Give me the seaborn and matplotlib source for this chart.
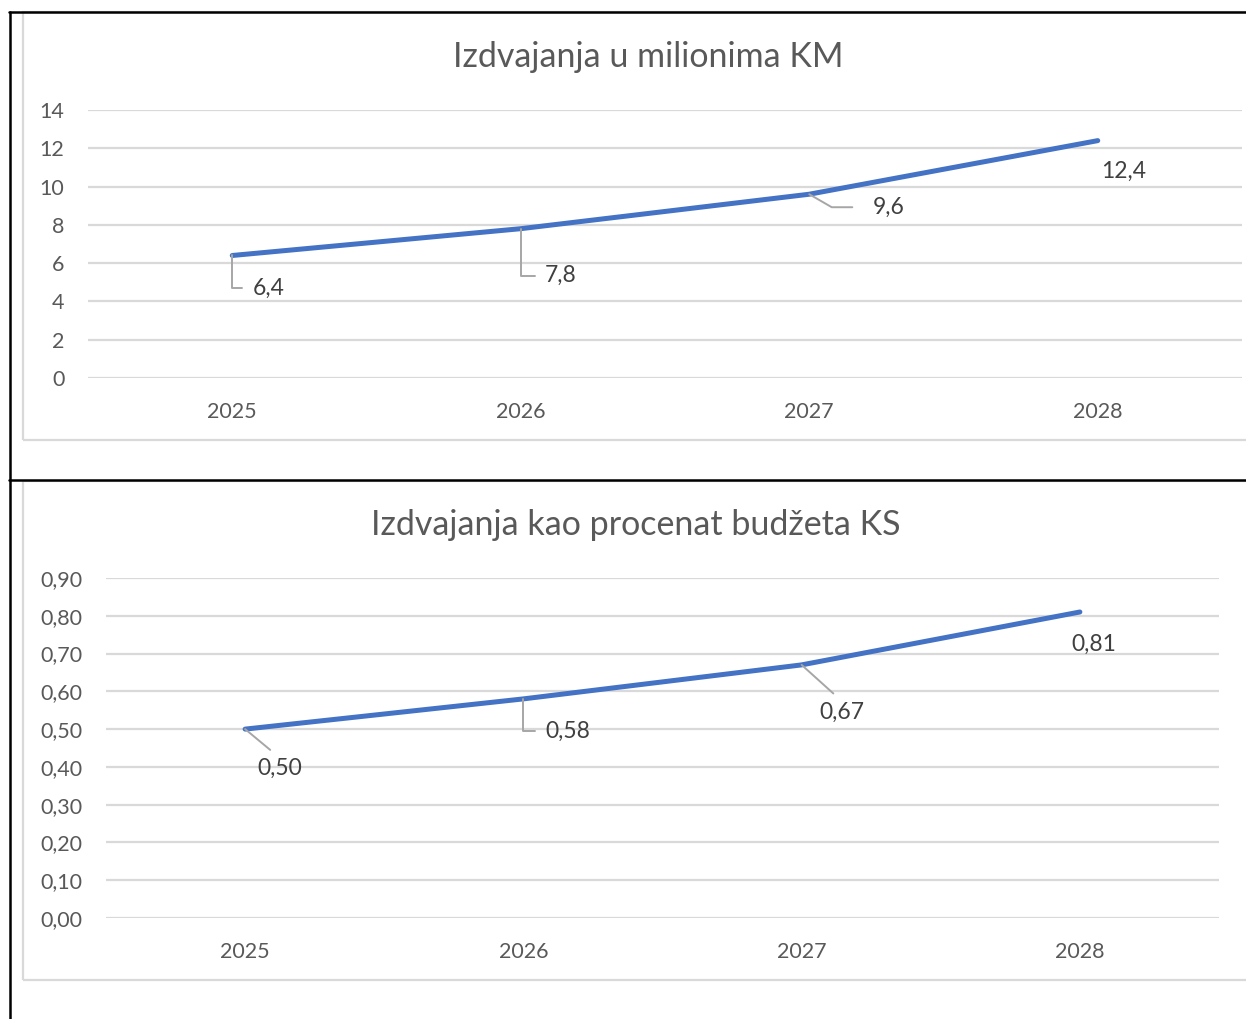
import matplotlib
matplotlib.use("Agg")
import matplotlib.pyplot as plt
import pandas as pd
import seaborn as sns
from matplotlib.lines import Line2D
from matplotlib.patches import Rectangle

# Daten
godine = ["2025", "2026", "2027", "2028"]
milioni_km = [6.4, 7.8, 9.6, 12.4]
procenat_budzeta = [0.50, 0.58, 0.67, 0.81]

naslov_gore = "Izdvajanja u milionima KM"
naslov_dolje = "Izdvajanja kao procenat budžeta KS"

W, H = 1246, 1019
LINIJA = "#4472C4"
SIVA_TEKST = "#595959"
ETIKETA = "#404040"
MREZA = "#d9d9d9"

sns.set_theme(style="white")
plt.rcParams["font.family"] = ["Lato", "DejaVu Sans"]


def px_rect(x0, y0, x1, y1):
    """Pixelkoordinate (od gore) -> [left, bottom, width, height] u dijelovima figure."""
    return [x0 / W, 1 - y1 / H, (x1 - x0) / W, (y1 - y0) / H]


def nacrtaj(ax, vrijednosti, yticks, fmt, offsets, leaders):
    df = pd.DataFrame({"godina": godine, "vrijednost": vrijednosti})
    sns.lineplot(data=df, x="godina", y="vrijednost", ax=ax, color=LINIJA,
                 linewidth=3.6, solid_capstyle="round")
    ax.set_xlim(-0.5, len(godine) - 0.5)
    ax.set_ylim(yticks[0], yticks[-1])
    ax.set_yticks(yticks)
    ax.set_yticklabels([fmt(t).replace(".", ",") for t in yticks])
    ax.set_xlabel("")
    ax.set_ylabel("")
    for s in ax.spines.values():
        s.set_visible(False)
    ax.yaxis.grid(True, color=MREZA, linewidth=1.6)
    ax.set_axisbelow(True)
    ax.tick_params(axis="y", length=0, pad=17, labelsize=15.5, labelcolor=SIVA_TEKST)
    ax.tick_params(axis="x", length=0, pad=17, labelsize=15.5, labelcolor=SIVA_TEKST)

    for i, v in enumerate(vrijednosti):
        dx, dy = offsets[i]
        arrow = None
        if leaders[i] == "elbow":
            arrow = dict(arrowstyle="-", color="#a6a6a6", lw=1.4,
                         connectionstyle="angle,angleA=0,angleB=90",
                         shrinkA=5, shrinkB=0, relpos=(0, 0.5))
        elif leaders[i] == "kos":
            arrow = dict(arrowstyle="-", color="#a6a6a6", lw=1.4,
                         connectionstyle="angle,angleA=0,angleB=-30",
                         shrinkA=12, shrinkB=0, relpos=(0, 0.5))
        elif leaders[i] == "ravno":
            arrow = dict(arrowstyle="-", color="#a6a6a6", lw=1.4,
                         connectionstyle="arc3,rad=0",
                         shrinkA=5, shrinkB=0, relpos=(0.5, 1))
        ax.annotate(fmt(v).replace(".", ","), xy=(i, v), xytext=(dx, dy),
                    textcoords="offset pixels", ha="left", va="center",
                    fontsize=16.5, color=ETIKETA, arrowprops=arrow,
                    annotation_clip=False)


fig = plt.figure(figsize=(W / 100, H / 100), dpi=100)

# okviri (tabela i granice grafikona)
for (x0, y0, x1, y1) in [(23, 12, 1260, 440), (23, 481, 1260, 980)]:
    fig.add_artist(Rectangle((x0 / W, 1 - y1 / H), (x1 - x0) / W, (y1 - y0) / H,
                             transform=fig.transFigure, fill=False,
                             edgecolor=MREZA, linewidth=1.6))
for xs, ys in [((9, W), (12, 12)), ((10, 10), (12, H)), ((9, W), (480, 480))]:
    fig.add_artist(Line2D([x / W for x in xs], [1 - y / H for y in ys],
                          transform=fig.transFigure, color="black", linewidth=1.8))

# gornji grafikon
ax1 = fig.add_axes(px_rect(88, 110, 1242, 378))
nacrtaj(ax1, milioni_km, list(range(0, 15, 2)),
        lambda t: f"{t:g}",
        offsets=[(20, -33), (24, -47), (63, -13), (3, -31)],
        leaders=["elbow", "elbow", "kos", None])
fig.text(648 / W, 1 - 57 / H, naslov_gore, ha="center", va="center",
         fontsize=24.5, color=SIVA_TEKST)

# donji grafikon
ax2 = fig.add_axes(px_rect(106, 578, 1219, 918))
nacrtaj(ax2, procenat_budzeta, [i / 10 for i in range(10)],
        lambda t: f"{t:.2f}",
        offsets=[(12, -39), (22, -32), (18, -47), (-8, -32)],
        leaders=["ravno", "elbow", "ravno", None])
fig.text(636 / W, 1 - 525 / H, naslov_dolje, ha="center", va="center",
         fontsize=24.5, color=SIVA_TEKST)

fig.savefig("out.png", dpi=100)
